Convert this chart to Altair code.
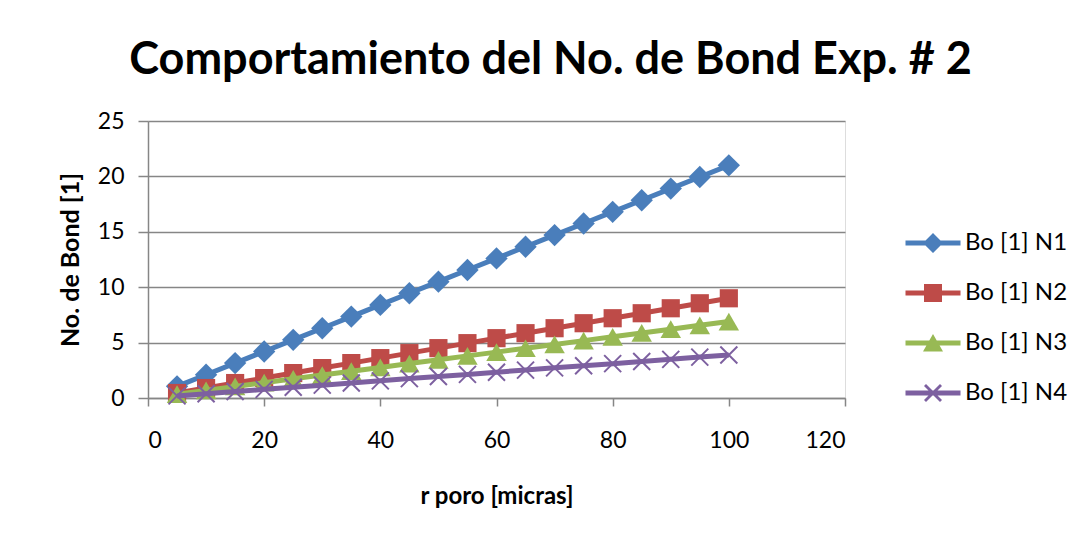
import altair as alt
import pandas as pd

x_vals = [5, 10, 15, 20, 25, 30, 35, 40, 45, 50, 55, 60, 65, 70, 75, 80, 85, 90, 95, 100]
n1 = [1.05, 2.1, 3.15, 4.2, 5.25, 6.3, 7.35, 8.4, 9.45, 10.5, 11.55, 12.6, 13.65, 14.7, 15.75, 16.8, 17.85, 18.9, 19.95, 21.0]
n2 = [0.45, 0.9, 1.35, 1.8, 2.25, 2.7, 3.15, 3.6, 4.05, 4.5, 4.95, 5.4, 5.85, 6.3, 6.75, 7.2, 7.65, 8.1, 8.55, 9.0]
n3 = [0.35, 0.69, 1.04, 1.38, 1.73, 2.07, 2.42, 2.76, 3.11, 3.45, 3.8, 4.14, 4.49, 4.83, 5.18, 5.52, 5.87, 6.21, 6.56, 6.9]
n4 = [0.19, 0.39, 0.58, 0.78, 0.97, 1.16, 1.36, 1.55, 1.75, 1.94, 2.13, 2.33, 2.52, 2.72, 2.91, 3.1, 3.3, 3.49, 3.69, 3.88]
series_names = ["Bo [1] N1", "Bo [1] N2", "Bo [1] N3", "Bo [1] N4"]
colors = ["#4A7EBB", "#BE4B48", "#98B954", "#7D60A0"]

X_PATH = ("M-0.78,-0.92L0.92,0.78L0.78,0.92L-0.92,-0.78Z "
          "M-0.92,0.78L0.78,-0.92L0.92,-0.78L-0.78,0.92Z")
marker_shapes = ["diamond", "square", "triangle-up", X_PATH]
marker_sizes = [500, 330, 420, 400]

# legend symbols: line segment + marker (unit scaled by 20px)
leg_line = "M-1.375,-0.12L1.375,-0.12L1.375,0.12L-1.375,0.12Z "
legend_paths = [
    leg_line + "M0,-0.5L0.5,0L0,0.5L-0.5,0Z",
    leg_line + "M-0.45,-0.45L0.45,-0.45L0.45,0.45L-0.45,0.45Z",
    leg_line + "M0,-0.45L0.5,0.42L-0.5,0.42Z",
    leg_line + "M-0.35,-0.45L0.45,0.35L0.35,0.45L-0.45,-0.35Z M-0.45,0.35L0.35,-0.45L0.45,-0.35L-0.35,0.45Z",
]

rows = []
for name, vals in zip(series_names, [n1, n2, n3, n4]):
    for xv, yv in zip(x_vals, vals):
        rows.append({"r": xv, "bo": yv, "serie": name})
df = pd.DataFrame(rows)

FONT = "Lato"
GRID = "#868686"

x_enc = alt.X("r:Q", scale=alt.Scale(domain=[0, 120], nice=False),
              axis=alt.Axis(values=[0, 20, 40, 60, 80, 100, 120], grid=False,
                            title="r poro [micras]", titleFontSize=24,
                            titleFontWeight="bold", titlePadding=32,
                            labelFontSize=23, labelPadding=23,
                            tickSize=8, tickColor=GRID, domainColor=GRID,
                            tickWidth=1.5, domainWidth=1.5, labelColor="black",
                            titleColor="black", labelFont=FONT, titleFont=FONT))
y_enc = alt.Y("bo:Q", scale=alt.Scale(domain=[0, 25], nice=False),
              axis=alt.Axis(values=[0, 5, 10, 15, 20, 25], grid=True,
                            gridColor=GRID, gridWidth=1.5,
                            title="No. de Bond [1]", titleFontSize=25,
                            titleFontWeight="bold", titlePadding=14,
                            labelFontSize=23, labelPadding=14,
                            tickSize=10, tickColor=GRID, domainColor=GRID,
                            tickWidth=1.5, domainWidth=1.5, labelColor="black",
                            titleColor="black", labelFont=FONT, titleFont=FONT))

base = alt.Chart(df)
layers = []
for name, col, shp, sz in zip(series_names, colors, marker_shapes, marker_sizes):
    sub = base.transform_filter(alt.datum.serie == name)
    layers.append(sub.mark_line(color=col, strokeWidth=5).encode(x=x_enc, y=y_enc))
    layers.append(sub.mark_point(shape=shp, size=sz, filled=True, color=col,
                                 opacity=1, strokeWidth=0).encode(x=x_enc, y=y_enc))

leg = alt.Legend(title=None, orient="none", legendX=765, legendY=102,
                 symbolSize=1600, symbolStrokeWidth=0, symbolOpacity=1,
                 labelFontSize=24, labelFont=FONT, labelColor="black",
                 labelOffset=12, rowPadding=18, padding=0, labelLimit=300)

legend_layer = base.mark_point(filled=True, opacity=0).encode(
    x=x_enc, y=y_enc,
    color=alt.Color("serie:N", scale=alt.Scale(domain=series_names, range=colors),
                    legend=leg),
    shape=alt.Shape("serie:N", scale=alt.Scale(domain=series_names, range=legend_paths),
                    legend=leg),
)
layers.append(legend_layer)

chart = alt.layer(*layers).properties(
    width=697, height=277,
    title=alt.TitleParams("Comportamiento del No. de Bond Exp. # 2", fontSize=45,
                          font=FONT, fontWeight="bold", color="black",
                          anchor="middle", dx=54, offset=27),
    autosize=alt.AutoSizeParams(type="none"),
    padding={"left": 140, "top": 113, "right": 225, "bottom": 129},
).configure_view(stroke=None).configure(background="white")

chart.save("out.html", embed_options={"renderer": "svg", "actions": False})
